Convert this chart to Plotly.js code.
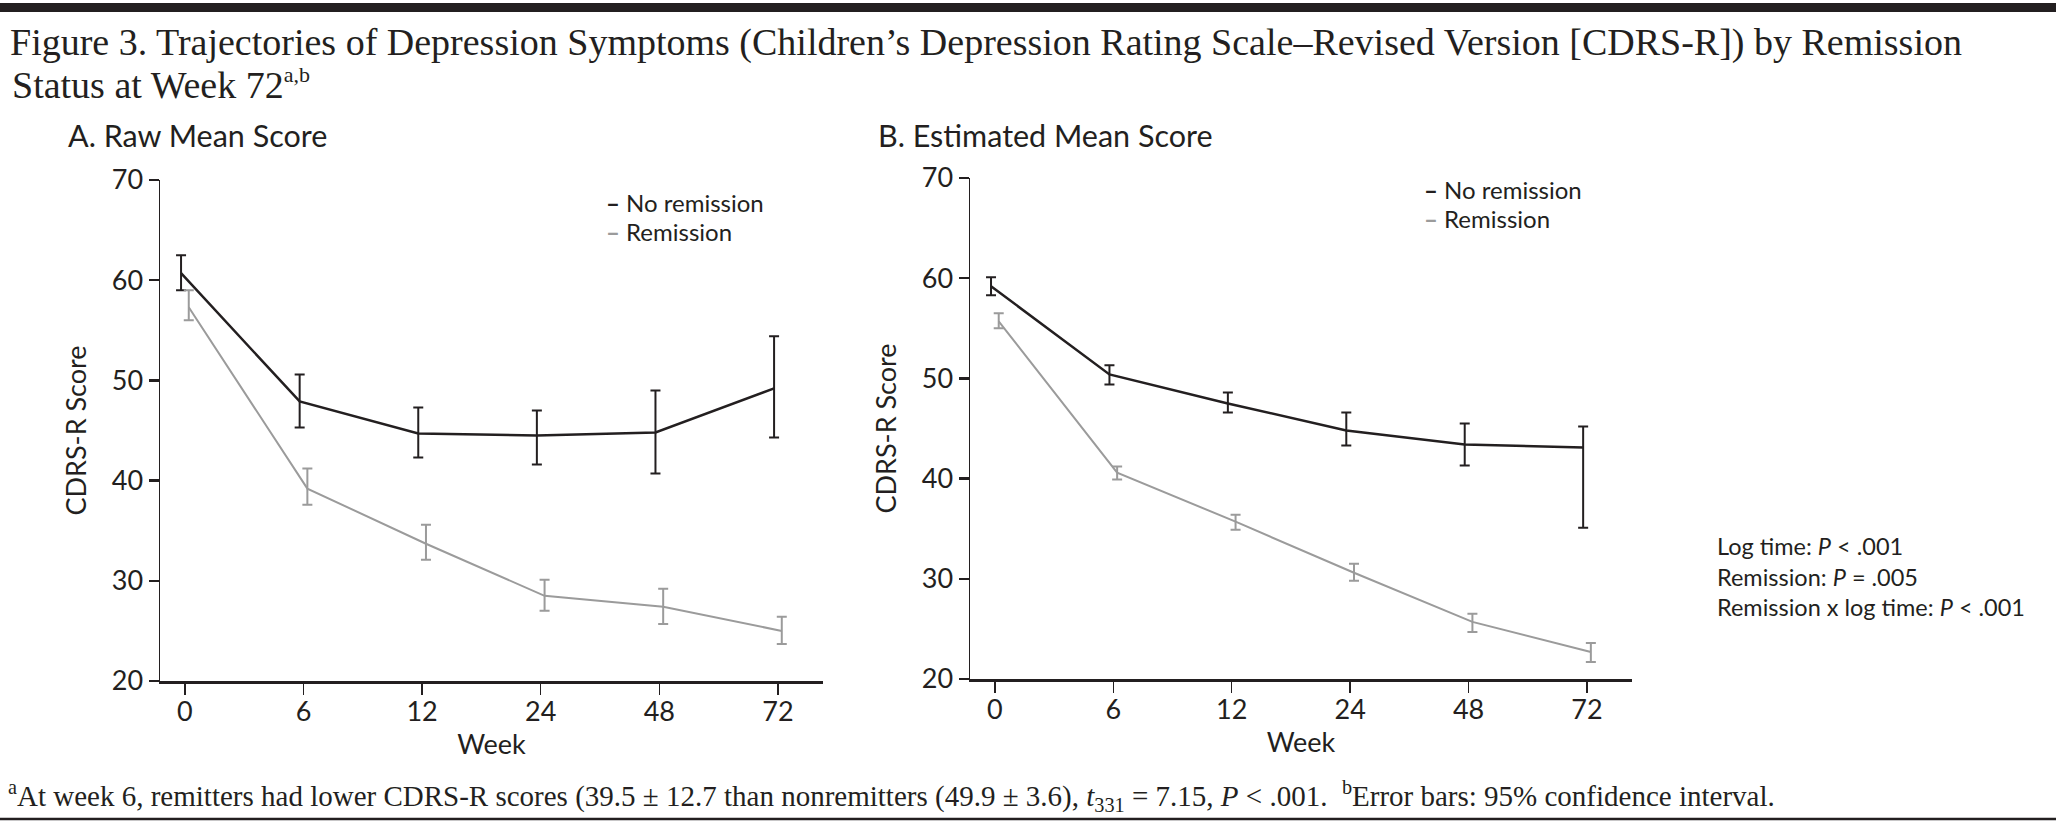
<!DOCTYPE html>
<html>
<head>
<meta charset="utf-8">
<script src="https://cdn.plot.ly/plotly-3.0.1.min.js"></script>
<style>html,body{margin:0;padding:0;background:#fff;}#chart{width:2056px;height:827px;}</style>
</head>
<body>
<div id="chart"></div>
<script>
// ---- data ----
const weeks = ['0', '6', '12', '24', '48', '72'];
const seriesNames = ['No remission', 'Remission'];

// Panel A: raw mean score with 95% CI
const rawNoRemMean = [60.7, 47.9, 44.7, 44.5, 44.8, 49.2];
const rawNoRemLo   = [59.0, 45.3, 42.3, 41.6, 40.7, 44.3];
const rawNoRemHi   = [62.5, 50.6, 47.3, 47.0, 49.0, 54.4];
const rawRemMean   = [57.3, 39.2, 33.7, 28.5, 27.4, 25.0];
const rawRemLo     = [56.0, 37.6, 32.1, 27.0, 25.7, 23.7];
const rawRemHi     = [59.0, 41.2, 35.6, 30.1, 29.2, 26.4];

// Panel B: estimated mean score with 95% CI
const estNoRemMean = [59.2, 50.4, 47.5, 44.8, 43.4, 43.1];
const estNoRemLo   = [58.3, 49.4, 46.6, 43.3, 41.3, 35.1];
const estNoRemHi   = [60.1, 51.3, 48.6, 46.6, 45.5, 45.2];
const estRemMean   = [55.7, 40.6, 35.7, 30.6, 25.7, 22.7];
const estRemLo     = [55.0, 39.9, 34.9, 29.8, 24.7, 21.7];
const estRemHi     = [56.5, 41.2, 36.4, 31.5, 26.5, 23.6];

const yTicks = [20, 30, 40, 50, 60, 70];
const statsLines = ['Log time: <i>P</i> < .001', 'Remission: <i>P</i> = .005', 'Remission x log time: <i>P</i> < .001'];

// ---- styling ----
const W = 2056, H = 827;
const BLACK = '#231f20', GRAY = '#9b9b9b';
const SANS = 'Lato, "Open Sans", sans-serif';
const SERIF = '"Liberation Serif", "DejaVu Serif", serif';
const px = x => x / W;
const py = y => 1 - y / H;

function trace(mean, lo, hi, color, width, xa, ya, name, grp) {
  return {
    type: 'scatter', mode: 'lines', name: name,
    x: weeks, y: mean, xaxis: xa, yaxis: ya,
    offsetgroup: grp, alignmentgroup: xa,
    line: {color: color, width: width},
    error_y: {
      type: 'data', symmetric: false,
      array: hi.map((v, i) => v - mean[i]),
      arrayminus: lo.map((v, i) => mean[i] - v),
      color: color, thickness: 2, width: 5
    },
    hoverinfo: 'x+y+name'
  };
}

const data = [
  trace(rawNoRemMean, rawNoRemLo, rawNoRemHi, BLACK, 2.5, 'x', 'y', seriesNames[0], 'a'),
  trace(rawRemMean, rawRemLo, rawRemHi, GRAY, 2, 'x', 'y', seriesNames[1], 'b'),
  trace(estNoRemMean, estNoRemLo, estNoRemHi, BLACK, 2.5, 'x2', 'y2', seriesNames[0], 'a'),
  trace(estRemMean, estRemLo, estRemHi, GRAY, 2, 'x2', 'y2', seriesNames[1], 'b')
];

function xAxis(domain, anchor) {
  return {
    domain: domain, anchor: anchor, type: 'category', range: [-0.21, 5.38],
    showline: true, linecolor: BLACK, linewidth: 2.5, mirror: false,
    ticks: 'outside', ticklen: 11, tickwidth: 1.5, tickcolor: BLACK,
    ticklabelstandoff: -6,
    showgrid: false, zeroline: false, fixedrange: true,
    tickfont: {family: SANS, size: 27, color: BLACK},
    title: {text: 'Week', font: {family: SANS, size: 27, color: BLACK}, standoff: 2}
  };
}
function yAxis(domain, anchor) {
  return {
    domain: domain, anchor: anchor, range: [20, 70], tickvals: yTicks,
    showline: true, linecolor: BLACK, linewidth: 1.5,
    ticks: 'outside', ticklen: 10, tickwidth: 2.5, tickcolor: BLACK,
    showgrid: false, zeroline: false, fixedrange: true,
    tickfont: {family: SANS, size: 27, color: BLACK},
    title: {text: 'CDRS-R Score', font: {family: SANS, size: 27, color: BLACK}, standoff: 17}
  };
}

function legendAnn(x, y, color, label) {
  return {
    xref: 'paper', yref: 'paper', x: px(x), y: py(y), xanchor: 'left', yanchor: 'middle',
    showarrow: false, align: 'left',
    text: '<span style="color:' + color + '"><b>\u2013</b></span> ' + label,
    font: {family: SANS, size: 24, color: BLACK}
  };
}

const annotations = [
  {xref: 'paper', yref: 'paper', x: px(10), y: py(84), xanchor: 'left', yanchor: 'middle', showarrow: false,
   text: 'Status at Week 72<sup><span style="font-size:22px">a,b</span></sup>', font: {family: SERIF, size: 38, color: BLACK}},
  {xref: 'paper', yref: 'paper', x: px(66), y: py(135), xanchor: 'left', yanchor: 'middle', showarrow: false,
   text: 'A. Raw Mean Score', font: {family: SANS, size: 30.5, color: BLACK}},
  {xref: 'paper', yref: 'paper', x: px(876), y: py(135), xanchor: 'left', yanchor: 'middle', showarrow: false,
   text: 'B. Estimated Mean Score', font: {family: SANS, size: 30.5, color: BLACK}},
  legendAnn(604, 202, BLACK, seriesNames[0]),
  legendAnn(604, 232, GRAY, seriesNames[1]),
  legendAnn(1422, 189, BLACK, seriesNames[0]),
  legendAnn(1422, 219, GRAY, seriesNames[1]),
  {xref: 'paper', yref: 'paper', x: px(1715), y: py(576), xanchor: 'left', yanchor: 'middle', showarrow: false,
   align: 'left', text: statsLines.join('<br>'), font: {family: SANS, size: 23.5, color: BLACK}},
  {xref: 'paper', yref: 'paper', x: px(6), y: py(796), xanchor: 'left', yanchor: 'middle', showarrow: false,
   text: '<sup>a</sup>At week 6, remitters had lower CDRS-R scores (39.5 \u00b1 12.7 than nonremitters (49.9 \u00b1 3.6), <i>t</i><sub>331</sub> = 7.15, <i>P</i> < .001.  <sup>b</sup>Error bars: 95% confidence interval.',
   font: {family: SERIF, size: 29, color: BLACK}}
];

const shapes = [
  {type: 'rect', xref: 'paper', yref: 'paper', x0: 0, x1: 1, y0: py(12), y1: py(3),
   fillcolor: BLACK, line: {width: 0}},
  {type: 'line', xref: 'paper', yref: 'paper', x0: 0, x1: 1, y0: py(819), y1: py(819),
   line: {color: BLACK, width: 2.5}}
];

const layout = {
  width: W, height: H,
  margin: {l: 0, r: 0, t: 0, b: 0},
  paper_bgcolor: '#ffffff', plot_bgcolor: '#ffffff',
  showlegend: false,
  scattermode: 'group', scattergap: 0.87,
  title: {
    text: 'Figure 3. Trajectories of Depression Symptoms (Children\u2019s Depression Rating Scale\u2013Revised Version [CDRS-R]) by Remission',
    x: px(10), xanchor: 'left', xref: 'paper', y: py(42), yref: 'container', yanchor: 'middle',
    font: {family: SERIF, size: 38, color: BLACK}
  },
  xaxis: xAxis([px(160), px(823)], 'y'),
  yaxis: yAxis([py(681), py(180)], 'x'),
  xaxis2: xAxis([px(970), px(1632)], 'y2'),
  yaxis2: yAxis([py(679), py(178)], 'x2'),
  annotations: annotations,
  shapes: shapes
};

Plotly.newPlot('chart', data, layout, {displayModeBar: false, staticPlot: true});
</script>
</body>
</html>
